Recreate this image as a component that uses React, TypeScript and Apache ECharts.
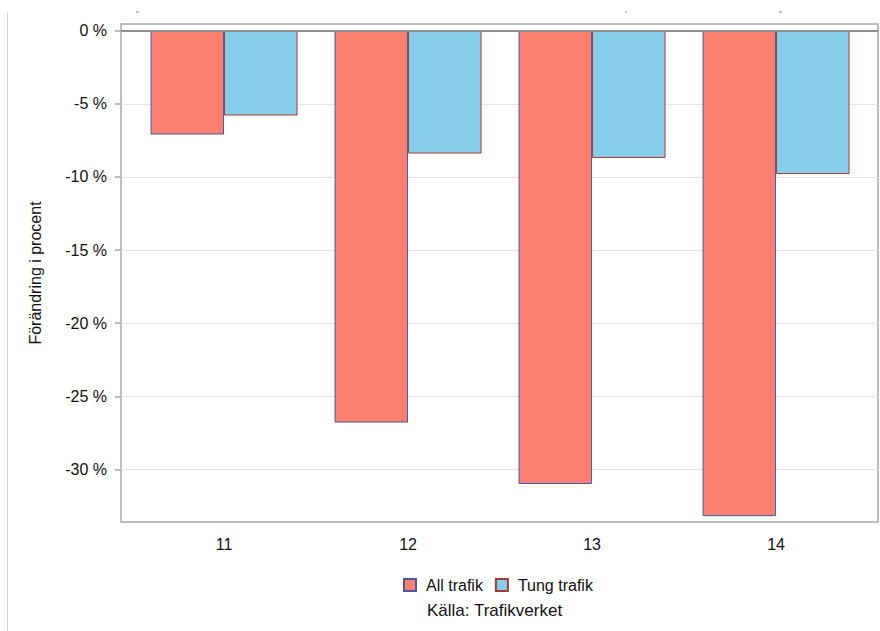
import React, { useEffect, useRef } from "react";
import * as echarts from "echarts";

const years = [11, 12, 13, 14];
const allTrafik = [-7.1, -26.8, -31.0, -33.2];
const tungTrafik = [-5.8, -8.4, -8.7, -9.8];
const yTicks = [0, -5, -10, -15, -20, -25, -30];
const seriesNames = ["All trafik", "Tung trafik"];
const yTitle = "Förändring i procent";
const source = "Källa: Trafikverket";

const FONT = "'Liberation Sans', Arial, sans-serif";

export default function App() {
  const ref = useRef<HTMLDivElement>(null);
  useEffect(() => {
    if (!ref.current) return;
    const chart = echarts.init(ref.current, undefined, { renderer: "svg" });
    chart.setOption({
      animation: false,
      backgroundColor: "#ffffff",
      textStyle: { fontFamily: FONT },
      grid: {
        left: 121,
        top: 24,
        width: 757,
        height: 498,
        show: true,
        borderColor: "#a8a8a8",
        borderWidth: 1.5,
        backgroundColor: "transparent",
      },
      title: {
        text: source,
        left: 427,
        top: 602,
        padding: 0,
        textStyle: { fontFamily: FONT, fontSize: 17, fontWeight: "normal", color: "#111" },
      },
      legend: {
        left: 403,
        top: 577,
        padding: 0,
        itemWidth: 12,
        itemHeight: 12,
        itemGap: 12,
        icon: "rect",
        data: seriesNames,
        textStyle: { fontFamily: FONT, fontSize: 16, color: "#111", padding: [0, 0, 0, 5] },
      },
      xAxis: {
        type: "value",
        min: 10.44,
        max: 14.554,
        axisLine: { show: false },
        splitLine: { show: false },
        axisTick: {
          show: true,
          customValues: years,
          length: 6,
          lineStyle: { color: "#a8a8a8", width: 1.5 },
        },
        axisLabel: {
          customValues: years,
          margin: 14,
          fontFamily: FONT,
          fontSize: 16,
          color: "#111",
        },
      },
      yAxis: {
        type: "value",
        min: -33.6,
        max: 0.46,
        name: yTitle,
        nameLocation: "middle",
        nameRotate: 90,
        nameGap: 78,
        nameTextStyle: { fontFamily: FONT, fontSize: 16, color: "#111" },
        axisLine: { show: false },
        axisTick: {
          show: true,
          customValues: yTicks,
          length: 6,
          lineStyle: { color: "#a8a8a8", width: 1.5 },
        },
        splitLine: { show: true, lineStyle: { color: "#e4e4e4", width: 1 } },
        axisLabel: {
          customValues: yTicks,
          margin: 14,
          fontFamily: FONT,
          fontSize: 16,
          color: "#111",
          formatter: (v: number) => `${v} %`,
        },
      },
      series: [
        {
          name: seriesNames[0],
          type: "bar",
          barWidth: 73.5,
          barGap: "0%",
          data: years.map((y, i) => [y, allTrafik[i]]),
          itemStyle: { color: "#fa8072", borderColor: "#4d57a3", borderWidth: 1 },
          markLine: {
            silent: true,
            symbol: "none",
            label: { show: false },
            lineStyle: { color: "#8f8f8f", width: 1.8, type: "solid" },
            data: [{ yAxis: 0 }],
          },
        },
        {
          name: seriesNames[1],
          type: "bar",
          barWidth: 73.5,
          barGap: "0%",
          data: years.map((y, i) => [y, tungTrafik[i]]),
          itemStyle: { color: "#87ceeb", borderColor: "#a33c34", borderWidth: 1 },
        },
      ],
      graphic: [
        {
          type: "line",
          shape: { x1: 7.5, y1: 12, x2: 7.5, y2: 631 },
          style: { stroke: "#d6d6d6", lineWidth: 1 },
          silent: true,
        },
        {
          type: "line",
          shape: { x1: 136, y1: 12, x2: 139, y2: 12 },
          style: { stroke: "#888", lineWidth: 1 },
          silent: true,
        },
        {
          type: "line",
          shape: { x1: 625, y1: 12, x2: 627, y2: 12 },
          style: { stroke: "#888", lineWidth: 1 },
          silent: true,
        },
        {
          type: "line",
          shape: { x1: 779, y1: 12, x2: 782, y2: 12 },
          style: { stroke: "#888", lineWidth: 1 },
          silent: true,
        },
      ],
    });
    return () => chart.dispose();
  }, []);
  return (
    <div
      ref={ref}
      style={{ position: "fixed", left: 0, top: 0, width: 880, height: 631, background: "#fff" }}
    />
  );
}
